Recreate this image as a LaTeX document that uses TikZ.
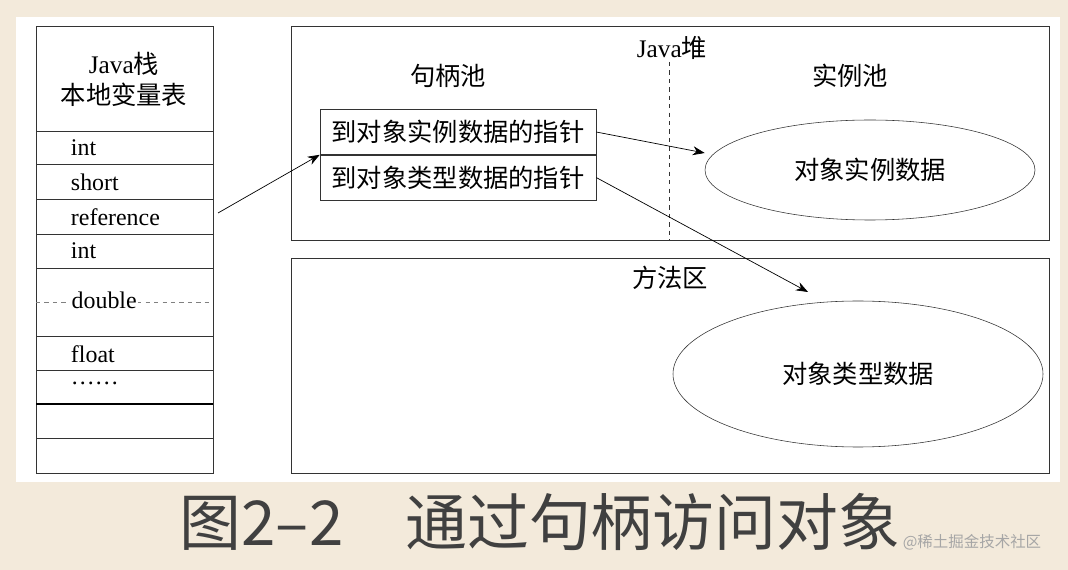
\documentclass[tikz,border=0pt]{standalone}
\usepackage{fontspec}
\setmainfont{Liberation Serif}
\newfontfamily\cjk{Noto Sans CJK SC}
\usetikzlibrary{arrows.meta,positioning,shapes.geometric}
\definecolor{paper}{RGB}{243,234,219}
\begin{document}
\begin{tikzpicture}[x=0.025cm,y=-0.025cm,{cell/.style={font=\fontsize{17}{19}\selectfont,anchor=west}},{zh/.style={font=\cjk\fontsize{18}{22}\selectfont}},{linest/.style={color=black!80,line width=0.5pt}},{ptr/.style={-{Stealth[length=3mm]},line width=0.5pt}}]
	%%background and white panel
	\fill [paper] (0,0) rectangle (1068,570);
	\useasboundingbox (0,0) rectangle (1068,570);
	\fill [white] (16,17) rectangle (1060,482);
	%%Java stack
	\draw [linest] (36,26) rectangle (213,473);
	\foreach \y in {131,164,199,234,268,336,370,438} \draw [linest] (36,\y) -- (213,\y);
	\draw [line width=1pt] (36,404) -- (213,404);
	\draw [linest,dashed,gray] (36,302) -- (213,302);
	\node [zh,align=center] (head) at (124,79) {\fontspec{Liberation Serif}Java\cjk 栈\\本地变量表};
	\node [cell] (i1) at (66,148) {int};
	\node [cell] (sh) at (66,182) {short};
	\node [cell] (ref) at (66,217) {reference};
	\node [cell] (i2) at (66,251) {int};
	\node [cell,fill=white,inner sep=1pt] (db) at (70,300) {double};
	\node [cell] (fl) at (66,354) {float};
	\node [cell] (dots) at (66,383) {\dots\dots};
	%%heap
	\draw [linest] (291,26) rectangle (1049,240);
	\draw [linest,dashed] (669,62) -- (669,240);
	\node [zh] (heap) at (672,48) {\fontspec{Liberation Serif}Java\cjk 堆};
	\node [zh] (hpool) at (448,76) {句柄池};
	\node [zh] (ipool) at (850,76) {实例池};
	\node [zh,draw=black!80,minimum width=276*0.025cm,minimum height=45*0.025cm,inner sep=0pt] (h1) at (458,132) {到对象实例数据的指针};
	\node [zh,draw=black!80,minimum width=276*0.025cm,minimum height=45*0.025cm,inner sep=0pt,below=0pt of h1] (h2) {到对象类型数据的指针};
	\node [zh,draw=black!80,ellipse,minimum width=330*0.025cm,minimum height=100*0.025cm] (inst) at (870,170) {对象实例数据};
	%%method area
	\draw [linest] (291,258) rectangle (1049,473);
	\node [zh] (marea) at (670,278) {方法区};
	\node [zh,draw=black!80,ellipse,minimum width=370*0.025cm,minimum height=146*0.025cm] (type) at (858,374) {对象类型数据};
	\coordinate (mtarget) at (808,292);
	%%pointers
	\draw [ptr] (218,213) -- (h1.south west);
	\draw [ptr] (h1.east) -- (inst.west |- 0,153);
	\draw [ptr] (h2.east) -- (mtarget);
	%%caption
	\node [font=\cjk\fontsize{44}{50}\selectfont,black!75] (cap) at (540,522) {图2–2\quad 通过句柄访问对象};
	\node [font=\cjk\fontsize{11}{13}\selectfont,gray!70] (wm) at (972,542) {@稀土掘金技术社区};
\end{tikzpicture}
\end{document}
